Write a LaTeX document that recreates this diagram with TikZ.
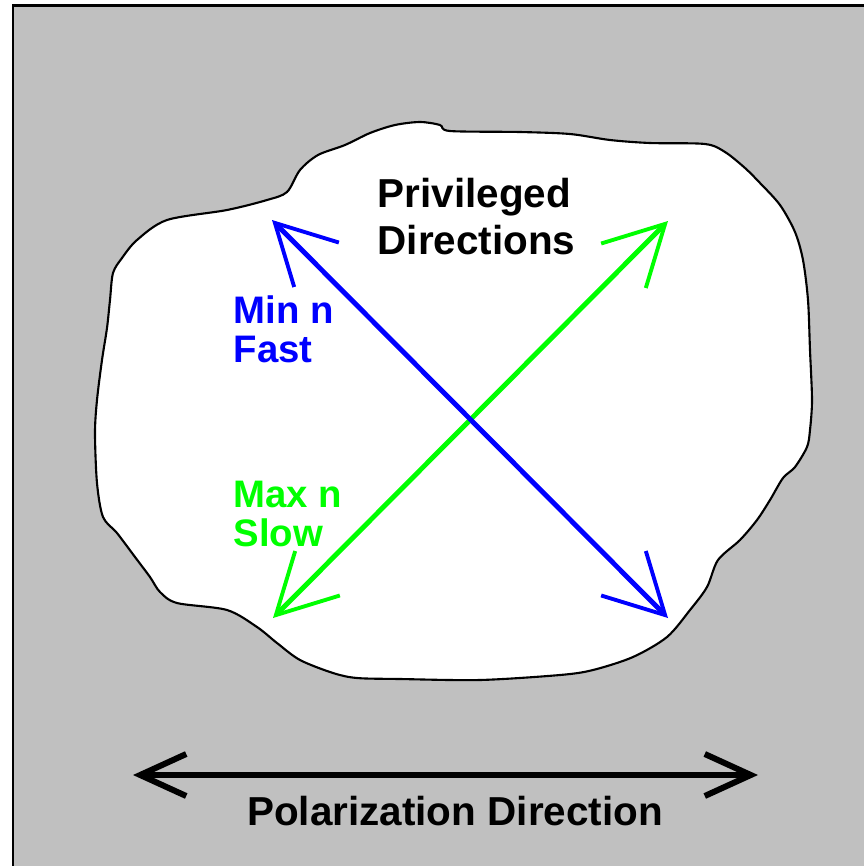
\documentclass[tikz,border=0pt]{standalone}
\usepackage{fontspec}
\setmainfont{Liberation Sans}
\usetikzlibrary{arrows.meta}
\definecolor{stagegray}{RGB}{192,192,192}
\definecolor{fastblue}{RGB}{0,0,255}
\definecolor{slowgreen}{RGB}{0,255,0}
\newcommand{\diagfont}{\fontsize{11.5}{13.6}\selectfont\bfseries}
\newcommand{\rayfont}{\fontsize{10.9}{11.1}\selectfont\bfseries}

\begin{document}
\begin{tikzpicture}[x=0.01cm, y=-0.01cm,
    vib/.style={line width=1.4pt,
      {Straight Barb[length=0.59cm,width=0.63cm,line width=1.1pt]}-{Straight Barb[length=0.59cm,width=0.63cm,line width=1.1pt]}},
    raylabel/.style={anchor=north west, inner sep=0pt, align=left, font=\rayfont},
    textlabel/.style={inner sep=0pt, align=left, font=\diagfont}]
				\useasboundingbox (0,0) rectangle (864,866);
				
				% Stage and mineral grain
				\draw[line width=0.85pt, fill=stagegray] (13,5) rectangle (900,900);
				\draw[line width=0.6pt, fill=white] plot[smooth cycle, tension=0.5] coordinates {
					(113,273) (122,258) (137,240) (167,220) (227,210) (267,200) (287,192) (300,170)
					(318,155) (345,145) (370,133) (395,125) (420,122) (440,125) (450,131) (520,132)
					(570,134) (610,140) (650,143) (705,144) (725,152) (745,168) (760,183) (780,205)
					(795,232) (803,260) (808,300) (810,350) (812,400) (810,430) (807,447) (795,467)
					(783,478) (770,500) (757,520) (740,540) (718,560) (707,587) (690,610) (667,637)
					(633,657) (593,670) (560,675) (480,680) (400,679) (357,678) (333,673) (300,660)
					(277,643) (257,627) (227,610) (177,603) (160,592) (150,577) (135,557) (117,533)
					(103,517) (97,483) (95,433) (97,400) (102,360) (107,328) (110,300)};
				
				% Vibration directions
				\coordinate (fastTop) at (272,220);
				\coordinate (fastBottom) at (668,618);
				\coordinate (slowTop) at (668,221);
				\coordinate (slowBottom) at (273,618);
				\draw[vib, slowgreen] (slowBottom) -- (slowTop);
				\draw[vib, fastblue] (fastTop) -- (fastBottom);
				
				\node[textlabel, anchor=north west] (privileged) at (377,177) {Privileged\\Directions};
				\node[raylabel, text=fastblue] (fast) at (233,295) {Min n\\Fast};
				\node[raylabel, text=slowgreen] (slow) at (233,480) {Max n\\Slow};
				
				% Polarizer
				\coordinate (polLeft) at (133,775);
				\coordinate (polRight) at (758,775);
				\draw[line width=1.7pt, {Straight Barb[length=0.46cm,width=0.42cm]}-{Straight Barb[length=0.46cm,width=0.42cm]}] (polLeft) -- (polRight);
				\node[textlabel, anchor=base] (polarization) at (455,825) {Polarization Direction};
			\end{tikzpicture}
\end{document}
